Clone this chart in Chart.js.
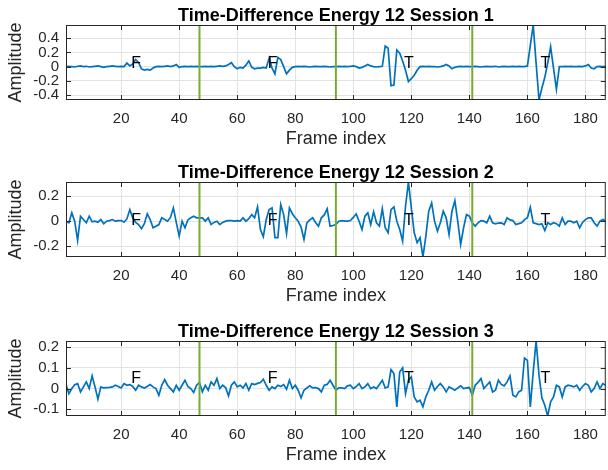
<!DOCTYPE html>
<html><head><meta charset="utf-8">
<script src="https://cdn.jsdelivr.net/npm/chart.js@4.4.1/dist/chart.umd.min.js"></script>
<style>
html,body{margin:0;padding:0;background:#fff;overflow:hidden;}
#wrap{position:relative;width:608px;height:470px;overflow:hidden;}
canvas{position:absolute;left:0;}
</style></head><body>
<div id="wrap">
<canvas id="c1" width="608" height="157" style="top:0px"></canvas>
<canvas id="c2" width="608" height="157" style="top:157px"></canvas>
<canvas id="c3" width="608" height="157" style="top:316px"></canvas>
</div>
<script>
// ---- data ----
const frames = Array.from({length: 187}, (_, i) => i + 1);
const xTicks = [20, 40, 60, 80, 100, 120, 140, 160, 180];
const boundaries = [47, 94, 141];
const labelX = [23.5, 70.5, 117.5, 164.5];
const labelText = ['F', 'F', 'T', 'T'];

const titles = ['Time-Difference Energy 12 Session 1', 'Time-Difference Energy 12 Session 2', 'Time-Difference Energy 12 Session 3'];
const yTicks1 = [-0.4, -0.2, 0, 0.2, 0.4];
const yTicks2 = [-0.2, 0, 0.2];
const yTicks3 = [-0.1, 0, 0.1, 0.2];
const labelY = [0.04, 0.005, 0.048];

const session1 = [
0, 0.005, 0, -0.005, 0.005, 0.01, 0, 0.005, -0.005, 0,
0.005, 0.01, 0, -0.01, 0, 0.005, 0.01, 0.005, 0, 0.005,
0, 0.05, 0.01, 0.04, 0.1, 0.06, -0.03, -0.05, -0.04, -0.05,
-0.02, 0, 0.005, 0, 0.005, 0.01, 0, 0.01, 0.03, -0.01,
0, 0.005, 0, 0.005, 0, 0.005, 0, 0, 0.005, 0,
0.005, 0, 0.005, 0.01, 0.005, 0.01, 0.03, 0.055, 0, -0.03,
-0.01, -0.02, 0.02, 0.08, -0.01, -0.03, -0.02, -0.02, -0.01, -0.02,
0.12, -0.02, -0.1, 0.13, 0.1, 0, -0.1, -0.05, -0.01, 0,
0.005, 0, 0.005, 0, -0.005, 0, 0.005, 0, 0, 0.005,
0, -0.005, 0, 0, 0.005, 0, 0.005, 0, 0.005, 0.01,
0, -0.02, -0.01, 0.01, 0.03, 0.01, 0, -0.005, 0, 0.005,
0.29, 0.26, -0.27, -0.26, 0.235, 0.19, 0.08, -0.05, -0.21, -0.17,
-0.12, -0.05, 0, 0.005, 0, 0.005, 0, 0, -0.005, 0,
0.01, 0.03, 0.01, -0.03, -0.01, 0, 0.005, 0, 0.005, 0,
0, 0.005, 0, -0.005, 0, 0.005, 0, 0, 0.005, -0.005,
0, 0.005, 0, 0, 0.005, 0, 0.005, 0, 0, 0.01,
0.3, 0.587, 0.05, -0.47, -0.3, -0.15, 0.05, 0.28, -0.02, -0.32,
0, 0, 0.005, 0, 0.005, 0, 0, 0.005, 0, 0.01,
0.03, -0.02, -0.03, 0, 0.005, 0, 0.005
];

const session2 = [
0, -0.013, 0.067, 0, -0.155, 0.04, 0.013, -0.013, 0.04, -0.005,
0, -0.008, 0.013, -0.021, 0, 0.005, 0.013, 0, 0.005, 0.005,
-0.008, 0.02, 0.093, 0.027, -0.01, -0.027, -0.06, -0.02, 0.06, 0.013,
-0.053, -0.04, -0.027, 0.027, 0.013, 0, 0.03, 0.107, -0.01, -0.12,
0, -0.053, 0.01, 0.027, 0.04, 0.027, 0.027, 0.027, 0, 0.027,
-0.027, -0.01, 0, -0.027, -0.01, 0, 0.005, 0.005, 0, 0.005,
0, 0.027, 0, 0.02, 0.053, 0.027, 0.115, -0.067, -0.125, 0.013,
0.093, 0.107, -0.133, -0.133, 0.133, 0.053, -0.1, 0.107, 0.06, 0.027,
0, -0.048, -0.147, -0.013, 0.01, 0.027, -0.01, -0.04, 0.027, 0.05,
0.1, -0.04, -0.035, -0.027, 0, 0.005, 0, 0, 0.005, 0.03,
0.059, 0, -0.067, 0.04, 0.067, -0.027, 0.075, -0.013, -0.04, 0.1,
-0.053, -0.093, 0.093, 0.115, 0, -0.067, -0.16, 0.12, 0.315, 0.107,
-0.093, -0.173, -0.133, -0.288, -0.12, 0.08, 0.147, 0, -0.08, -0.013,
0.08, 0.027, -0.107, 0.08, 0.165, 0, -0.187, -0.053, 0.053, 0.04,
-0.013, -0.04, -0.013, 0.005, 0, -0.013, 0.04, -0.013, -0.021, -0.015,
-0.013, -0.027, 0.027, 0.01, 0.005, -0.027, -0.02, -0.013, 0.013, 0.027,
0.112, -0.013, -0.02, -0.027, -0.021, -0.075, -0.013, -0.027, -0.013, -0.02,
-0.04, 0.027, -0.027, 0, 0, -0.013, 0, -0.053, -0.01, 0.013,
0.027, 0.027, -0.013, -0.04, 0, 0.013, 0
];

const session3 = [
0.019, -0.024, 0, 0.019, 0.024, -0.016, 0.008, 0.032, 0, 0.061,
0.008, -0.051, 0.008, 0.003, 0.005, 0.006, 0.008, 0.016, 0.01, 0.003,
0.024, 0.016, 0.019, 0.01, -0.008, 0.016, 0.008, 0.003, 0.01, 0.019,
0.008, 0, -0.032, 0.016, 0.043, 0.016, 0, -0.016, 0.016, -0.008,
0.016, 0.04, 0.01, 0, -0.019, 0.016, 0.029, -0.016, 0.016, -0.008,
0.032, 0.016, 0.048, 0, 0.016, 0.005, -0.035, 0.016, 0.032, 0.008,
0.016, 0.003, 0.024, -0.008, 0.024, 0.019, 0.025, 0.029, 0.045, 0.016,
-0.008, 0.008, 0, 0.016, 0.01, 0.019, -0.003, 0.04, 0, 0.016,
-0.008, -0.045, -0.008, 0.003, 0.013, 0.003, 0.005, 0, -0.016, 0.016,
0.02, 0.04, 0.016, -0.008, 0.003, 0.003, 0, 0.013, 0.016, 0,
0.01, 0.024, 0, 0.008, 0.024, 0, 0.008, 0, 0.02, 0.04,
0.003, 0.008, 0.091, 0.072, -0.088, 0.08, 0.1, -0.024, 0.04, 0.056,
-0.04, -0.064, -0.056, -0.088, -0.04, -0.008, 0.032, -0.008, 0.01, 0.024,
0.008, -0.016, 0.008, 0, -0.008, 0.003, 0.013, 0, 0.003, 0.005,
-0.032, 0.016, 0.03, 0.048, 0, 0.016, 0.032, -0.016, -0.008, 0.04,
0.02, 0.013, 0.032, 0.061, -0.032, -0.04, -0.016, -0.008, 0.147, 0.136,
-0.088, 0.08, 0.229, 0.064, -0.045, -0.08, -0.132, -0.064, -0.04, 0.016,
0.008, -0.04, 0.008, 0.016, 0.013, 0.008, 0.016, -0.008, 0.01, 0.024,
0.016, -0.016, 0, 0.032, 0, 0.024, 0.016
];

// ---- styling ----
const FONT = '"Liberation Sans", Arial, Helvetica, sans-serif';
const AXIS_COLOR = '#262626';
const LINE_COLOR = '#0072BD';
const MARK_COLOR = '#77AC30';

const decor = {
  id: 'decor',
  afterDatasetsDraw(chart) {
    const o = chart.options.plugins.decor;
    const {ctx, scales: {x, y}} = chart;
    ctx.save();
    ctx.fillStyle = '#000';
    ctx.font = '16px ' + FONT;
    ctx.textAlign = 'left';
    ctx.textBaseline = 'middle';
    o.labelX.forEach((v, i) => ctx.fillText(o.labelText[i], x.getPixelForValue(v), y.getPixelForValue(o.labelY)));
    ctx.restore();
  },
  afterDraw(chart) {
    const o = chart.options.plugins.decor;
    const {ctx, chartArea: a, scales: {x, y}} = chart;
    ctx.save();
    ctx.strokeStyle = AXIS_COLOR;
    ctx.lineWidth = 1;
    ctx.beginPath();
    o.xTicks.forEach(v => {
      const px = Math.round(x.getPixelForValue(v)) + 0.5;
      ctx.moveTo(px, a.bottom); ctx.lineTo(px, a.bottom - 5);
      ctx.moveTo(px, a.top); ctx.lineTo(px, a.top + 5);
    });
    o.yTicks.forEach(v => {
      const py = Math.round(y.getPixelForValue(v)) + 0.5;
      ctx.moveTo(a.left, py); ctx.lineTo(a.left + 5, py);
      ctx.moveTo(a.right, py); ctx.lineTo(a.right - 5, py);
    });
    ctx.stroke();
    ctx.strokeRect(a.left + 0.5, a.top + 0.5, a.width - 1, a.height - 1);
    ctx.fillStyle = '#000';
    ctx.font = 'bold 18px ' + FONT;
    ctx.textAlign = 'center';
    ctx.textBaseline = 'alphabetic';
    ctx.fillText(o.title, (a.left + a.right) / 2, a.top - 4.3);
    ctx.restore();
  }
};

function makeChart(id, series, yTicks, title, lblY) {
  const yMin = Math.min(...series), yMax = Math.max(...series);
  const datasets = boundaries.map(b => ({
    data: [{x: b, y: yMin}, {x: b, y: yMax}],
    borderColor: MARK_COLOR, borderWidth: 2, pointRadius: 0, tension: 0
  }));
  datasets.push({
    data: series.map((v, i) => ({x: frames[i], y: v})),
    borderColor: LINE_COLOR, borderWidth: 1.7, pointRadius: 0, tension: 0
  });
  return new Chart(document.getElementById(id), {
    type: 'line',
    data: {datasets},
    plugins: [decor],
    options: {
      responsive: false, animation: false, events: [],
      layout: {padding: {top: 25, right: 1, left: 0, bottom: 0}},
      plugins: {
        legend: {display: false}, tooltip: {enabled: false}, title: {display: false},
        decor: {xTicks, yTicks, title, labelX, labelText, labelY: lblY}
      },
      scales: {
        x: {
          type: 'linear', min: frames[0], max: frames[frames.length - 1],
          afterBuildTicks: s => { s.ticks = xTicks.map(v => ({value: v})); },
          afterFit: s => { s.height = s.chart.height - 100; },
          grid: {color: '#e3e3e3', lineWidth: 1, drawTicks: false},
          border: {display: false},
          ticks: {padding: 10, color: AXIS_COLOR, font: {family: FONT, size: 15}, maxRotation: 0, autoSkip: false},
          title: {display: true, text: 'Frame index', color: AXIS_COLOR, font: {family: FONT, size: 18}, padding: {top: 0, bottom: 7}}
        },
        y: {
          type: 'linear', min: yMin, max: yMax,
          afterBuildTicks: s => { s.ticks = yTicks.map(v => ({value: v})); },
          afterFit: s => { s.width = 66; },
          grid: {color: '#e3e3e3', lineWidth: 1, drawTicks: false},
          border: {display: false},
          ticks: {padding: 7, color: AXIS_COLOR, font: {family: FONT, size: 15}, autoSkip: false, callback: v => String(v)},
          title: {display: true, text: 'Amplitude', color: AXIS_COLOR, font: {family: FONT, size: 18}, padding: {top: 5, bottom: 0}}
        }
      }
    }
  });
}

makeChart('c1', session1, yTicks1, titles[0], labelY[0]);
makeChart('c2', session2, yTicks2, titles[1], labelY[1]);
makeChart('c3', session3, yTicks3, titles[2], labelY[2]);
</script>
</body></html>
